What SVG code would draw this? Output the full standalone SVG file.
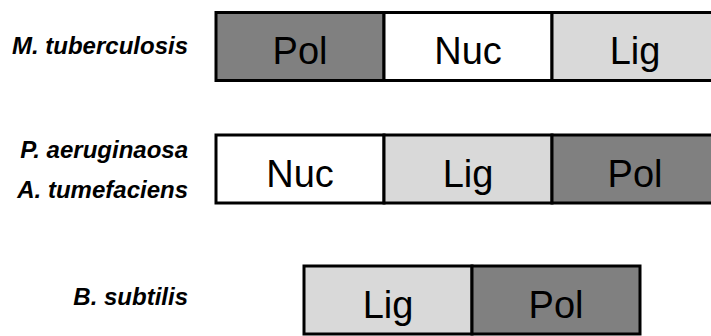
<svg xmlns="http://www.w3.org/2000/svg" width="711" height="336" viewBox="0 0 711 336">
<style>
.lbl{font-family:"Liberation Sans",Arial,sans-serif;font-weight:bold;font-style:italic;font-size:24px;fill:#000;text-anchor:end}
.seg{stroke:#000;stroke-width:3}
.pol{fill:#808080}
.nuc{fill:#ffffff}
.lig{fill:#d9d9d9}
.t{font-family:"Liberation Sans",Arial,sans-serif;font-size:38px;fill:#000;text-anchor:middle}
</style>
<rect width="711" height="336" fill="#fff"/>
<g id="row-mtb">
<text class="lbl" x="188" y="54">M. tuberculosis</text>
<rect class="seg pol" x="216" y="12.5" width="168" height="68"/>
<rect class="seg nuc" x="384" y="12.5" width="168" height="68"/>
<rect class="seg lig" x="552" y="12.5" width="168" height="68"/>
<text class="t" x="300" y="64">Pol</text>
<text class="t" x="468" y="64">Nuc</text>
<text class="t" x="635" y="64">Lig</text>
</g>
<g id="row-pa">
<text class="lbl" x="188" y="158">P. aeruginaosa</text>
<text class="lbl" x="188" y="198">A. tumefaciens</text>
<rect class="seg nuc" x="216" y="135" width="168" height="68"/>
<rect class="seg lig" x="384" y="135" width="168" height="68"/>
<rect class="seg pol" x="552" y="135" width="168" height="68"/>
<text class="t" x="300" y="187">Nuc</text>
<text class="t" x="468" y="187">Lig</text>
<text class="t" x="635" y="187">Pol</text>
</g>
<g id="row-bs">
<text class="lbl" x="188" y="305">B. subtilis</text>
<rect class="seg lig" x="304" y="266" width="168" height="68"/>
<rect class="seg pol" x="472" y="266" width="168" height="68"/>
<text class="t" x="388" y="318">Lig</text>
<text class="t" x="556" y="318">Pol</text>
</g>
<g id="connectors"></g>
</svg>
